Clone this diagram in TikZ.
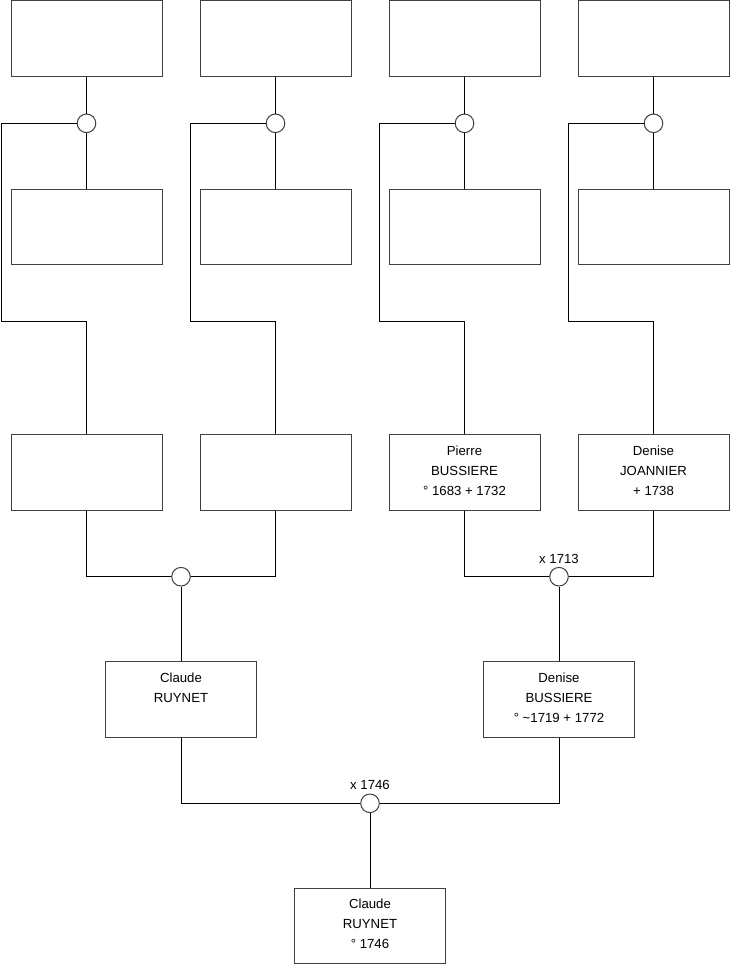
\documentclass[tikz,border=0pt]{standalone}
\usepackage{fontspec}
\setmainfont{Liberation Sans}
\begin{document}
\begin{tikzpicture}[x=1pt,y=-1pt,
  box/.style={draw=black!75,line width=1pt,fill=white,minimum width=151pt,minimum height=75.5pt,inner sep=0pt},
  knot/.style={circle,draw=black!75,line width=1pt,fill=white,minimum size=18.6pt,inner sep=0pt},
  txt/.style={anchor=north,inner sep=0pt,align=center,font=\fontsize{13.2}{20}\selectfont},
  lab/.style={anchor=south,inner sep=0pt,font=\fontsize{13.2}{15}\selectfont},
  link/.style={draw=black,line width=1pt}]
\useasboundingbox (0,0) rectangle (740,975);
% row 1
\node[box] (a1) at (86.5,38.5) {};
\node[box] (a2) at (275.5,38.5) {};
\node[box] (a3) at (464.5,38.5) {};
\node[box] (a4) at (653.5,38.5) {};
% row 2
\node[box] (b1) at (86.5,227) {};
\node[box] (b2) at (275.5,227) {};
\node[box] (b3) at (464.5,227) {};
\node[box] (b4) at (653.5,227) {};
% row 3
\node[box] (g1) at (86.5,472.5) {};
\node[box] (g2) at (275.5,472.5) {};
\node[box] (g3) at (464.5,472.5) {};
\node[box] (g4) at (653.5,472.5) {};
\node[txt] (tg3) at ([yshift=-11pt]g3.north) {Pierre\\BUSSIERE\\° 1683 + 1732};
\node[txt] (tg4) at ([yshift=-11pt]g4.north) {Denise\\JOANNIER\\+ 1738};
% row 4
\node[box] (h1) at (181,699.5) {};
\node[box] (h2) at (559,699.5) {};
\node[txt] (th1) at ([yshift=-11pt]h1.north) {Claude\\RUYNET};
\node[txt] (th2) at ([yshift=-11pt]h2.north) {Denise\\BUSSIERE\\° \textasciitilde1719 + 1772};
% row 5
\node[box] (k1) at (370,926) {};
\node[txt] (tk1) at ([yshift=-11pt]k1.north) {Claude\\RUYNET\\° 1746};
% knots
\node[knot] (c1) at (86.5,123.3) {};
\node[knot] (c2) at (275.5,123.3) {};
\node[knot] (c3) at (464.5,123.3) {};
\node[knot] (c4) at (653.5,123.3) {};
\node[knot] (d1) at (181,576.7) {};
\node[knot] (d2) at (559,576.7) {};
\node[knot] (e1) at (370,803.3) {};
\node[lab] (ld2) at ([yshift=3.5pt]d2.north) {x 1713};
\node[lab] (le1) at ([yshift=3.5pt]e1.north) {x 1746};
% connectors upper part
\foreach \i in {1,2,3,4}{
  \draw[link] (a\i.south) -- (c\i.north);
  \draw[link] (c\i.south) -- (b\i.north);
  \draw[link] (c\i.west) -- ++(-75.5,0) -- ++(0,198.4) -| (g\i.north);
}
% row 3 to row 4
\draw[link] (g1.south) |- (d1.west);
\draw[link] (g2.south) |- (d1.east);
\draw[link] (g3.south) |- (d2.west);
\draw[link] (g4.south) |- (d2.east);
\draw[link] (d1.south) -- (h1.north);
\draw[link] (d2.south) -- (h2.north);
% row 4 to row 5
\draw[link] (h1.south) |- (e1.west);
\draw[link] (h2.south) |- (e1.east);
\draw[link] (e1.south) -- (k1.north);
\end{tikzpicture}
\end{document}
